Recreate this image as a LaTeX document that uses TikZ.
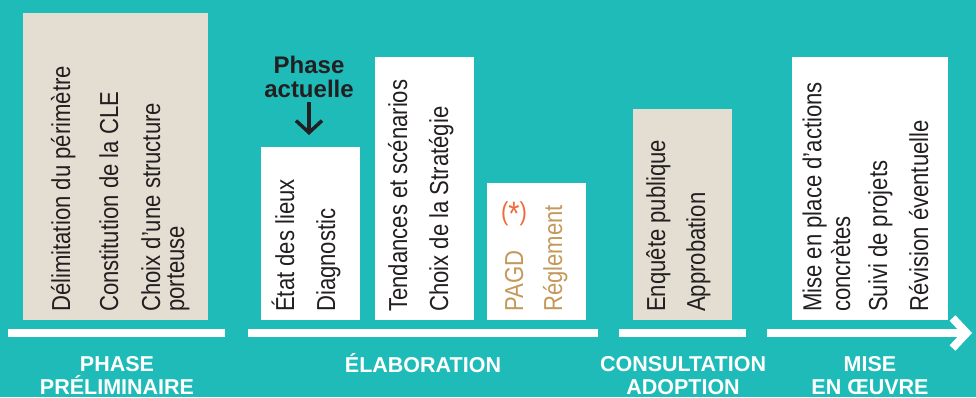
\documentclass[tikz,border=0pt]{standalone}
\usepackage{fontspec}
\setmainfont[FakeStretch=0.85]{Liberation Sans}
\newfontfamily\phasefont{Liberation Sans}
\usetikzlibrary{arrows.meta}

\definecolor{bgteal}{RGB}{30,187,184}
\definecolor{boxbeige}{RGB}{227,221,210}
\definecolor{inkgrey}{RGB}{35,31,32}
\definecolor{pagdtan}{RGB}{196,154,92}
\definecolor{starorange}{RGB}{242,106,56}

\tikzset{
  stagebox/.style={fill=white, inner sep=0pt, anchor=north west},
  itemtext/.style={rotate=90, anchor=base west, inner sep=0pt, align=left,
    text=inkgrey, font=\fontsize{26}{24}\selectfont},
  phaselabel/.style={anchor=base, inner sep=0pt, align=center, text=white,
    font=\phasefont\bfseries\fontsize{21.5}{22.5}\selectfont},
  timeline/.style={white, line width=8pt}
}

\begin{document}
\begin{tikzpicture}[x=1pt,y=-1pt]
\useasboundingbox (0,0) rectangle (976,397);
\fill[bgteal] (0,0) rectangle (976,397);

% A. Boxes of each stage
\node[stagebox, fill=boxbeige, minimum width=185pt, minimum height=307pt] (prelim) at (23,13) {};
\node[stagebox, minimum width=99pt, minimum height=173pt] (etat) at (261,147) {};
\node[stagebox, minimum width=99pt, minimum height=263pt] (tend) at (375,57) {};
\node[stagebox, minimum width=99pt, minimum height=137pt] (pagd) at (487,183) {};
\node[stagebox, fill=boxbeige, minimum width=99pt, minimum height=211pt] (consult) at (633,109) {};
\node[stagebox, minimum width=156pt, minimum height=263pt] (mise) at (792,57) {};

% B. Rotated items, read from bottom to top (base = last line)
\node[itemtext] (delim) at (70,312) {Délimitation du périmètre};
\node[itemtext] (cle) at (118,312) {Constitution de la CLE};
\node[itemtext] (porteuse) at (184,312) {Choix d’une structure\\porteuse};

\node[itemtext] (lieux) at (294,312) {État des lieux};
\node[itemtext] (diag) at (335,312) {Diagnostic};

\node[itemtext] (scen) at (407,312) {Tendances et scénarios};
\node[itemtext] (strat) at (448,312) {Choix de la Stratégie};

\node[itemtext, text=pagdtan] (pagdtxt) at (523,312) {PAGD};
\node[itemtext, text=pagdtan] (regl) at (562,312) {Réglement};
\node[text=starorange, inner sep=0pt, font=\fontsize{26}{26}\selectfont] (star) at (514,214)
  {(\raisebox{-0.3ex}{\scalebox{1.3}{*}})};

\node[itemtext] (enq) at (665,312) {Enquête publique};
\node[itemtext] (appro) at (705,312) {Approbation};

\node[itemtext] (actions) at (850,312) {Mise en place d’actions\\[3pt]concrètes};
\node[itemtext] (suivi) at (887,312) {Suivi de projets};
\node[itemtext] (revis) at (928,312) {Révision éventuelle};

% C. Current phase marker
\node[anchor=base, inner sep=0pt, align=center, text=inkgrey,
  font=\phasefont\bfseries\fontsize{24}{24}\selectfont] (cur) at (309,97) {Phase\\actuelle};
\draw[-{Straight Barb[length=12pt,width=26pt]}, line width=3.5pt, inkgrey,
  shorten <=5pt, shorten >=12pt] (cur.south) -- (cur.south |- etat.north);

% D. Time line under the boxes
\coordinate (t1a) at (8,333);
\coordinate (t1b) at (225,333);
\coordinate (t2a) at (248,333);
\coordinate (t2b) at (598,333);
\coordinate (t3a) at (619,333);
\coordinate (t3b) at (746,333);
\coordinate (t4a) at (767,333);
\coordinate (t4b) at (972,333);
\draw[timeline] (t1a) -- (t1b);
\draw[timeline] (t2a) -- (t2b);
\draw[timeline] (t3a) -- (t3b);
\draw[timeline, -{Straight Barb[length=14pt,width=30pt]}] (t4a) -- (t4b);

% E. Names of the phases
\node[phaselabel] (lprelim) at (117,394) {PHASE\\PRÉLIMINAIRE};
\node[phaselabel] (lelab) at (423,372) {ÉLABORATION};
\node[phaselabel] (lconsult) at (683,394) {CONSULTATION\\ADOPTION};
\node[phaselabel] (lmise) at (870,394) {MISE\\EN ŒUVRE};

\end{tikzpicture}
\end{document}
